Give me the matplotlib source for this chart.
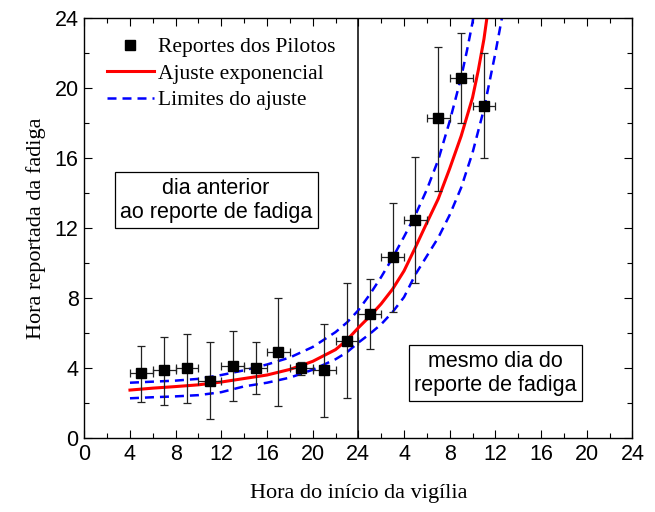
import matplotlib.pyplot as plt
import numpy as np

# pilot reports (x in hours counted over two days, 24-48 = same day)
rep_x = [5, 7, 9, 11, 13, 15, 17, 19, 21, 23, 25, 27, 29, 31, 33, 35]
rep_y = [3.7, 3.89, 3.98, 3.26, 4.11, 4.0, 4.93, 3.98, 3.89, 5.54,
         7.07, 10.33, 12.46, 18.27, 20.59, 18.99]
rep_top = [5.27, 5.79, 5.96, 5.5, 6.1, 5.5, 8.0, 4.36, 6.5, 8.84,
           9.1, 13.45, 16.04, 22.33, 23.16, 21.98]
rep_bot = [2.07, 1.87, 1.98, 1.07, 2.13, 2.5, 1.83, 3.6, 1.2, 2.27,
           5.07, 7.22, 8.87, 14.11, 17.98, 16.02]
rep_xerr = [1] * 16

# exponential fit
fit_x = [4, 6, 8, 10, 12, 14, 16, 18, 20, 22, 23, 24, 25, 26, 27, 28,
         29, 30, 31, 32, 33, 34, 34.5, 35, 35.3]
fit_y = [2.74, 2.85, 2.94, 3.04, 3.2, 3.4, 3.6, 3.92, 4.38, 5.05, 5.6, 6.3,
         6.95, 7.67, 8.51, 9.55, 10.9, 12.3, 13.67, 15.4, 17.25, 19.45,
         21.0, 22.8, 24.2]

# fit limits
up_x = [4, 6, 8, 10, 12, 14, 16, 18, 20, 22, 23, 24, 25, 26, 27, 28, 29,
        30, 31, 32, 33, 33.5, 34, 34.1]
up_y = [3.16, 3.22, 3.28, 3.38, 3.6, 3.87, 4.2, 4.6, 5.2, 6.05, 6.6, 7.3,
        8.2, 9.2, 10.3, 11.5, 12.75, 14.2, 15.9, 18.1, 20.6, 22.1, 23.75, 24.2]
lo_x = [4, 6, 8, 10, 12, 14, 16, 18, 20, 22, 23, 24, 25, 26, 27, 28, 29,
        30, 31, 32, 33, 34, 35, 36, 36.6]
lo_y = [2.27, 2.33, 2.38, 2.45, 2.62, 2.95, 3.16, 3.45, 3.9, 4.5, 4.9, 5.45,
        5.95, 6.5, 7.2, 8.05, 9.35, 10.4, 11.45, 12.75, 14.3, 16.3, 18.8,
        22.0, 24.1]

xtick_pos = np.arange(0, 49, 4)
xtick_lab = ['0', '4', '8', '12', '16', '20', '24', '4', '8', '12', '16', '20', '24']

serif = 'Liberation Serif'
sans = 'Liberation Sans'

fig = plt.figure(figsize=(6.55, 5.12), dpi=100)
ax = fig.add_axes([0.1287, 0.1445, 0.8368, 0.8203])

ax.plot(fit_x, fit_y, color='red', lw=2.2, label='Ajuste exponencial', zorder=2)
l1, = ax.plot(up_x, up_y, color='blue', lw=1.8, label='Limites do ajuste', zorder=2)
l2, = ax.plot(lo_x, lo_y, color='blue', lw=1.8, zorder=2)
for ln in (l1, l2):
    ln.set_dashes((3.6, 2.4))

yerr = [np.array(rep_y) - np.array(rep_bot), np.array(rep_top) - np.array(rep_y)]
ax.errorbar(rep_x, rep_y, yerr=yerr, xerr=rep_xerr, fmt='none', ecolor='#222222',
            elinewidth=0.9, capsize=3, capthick=0.9, zorder=3)
ax.plot(rep_x, rep_y, 's', color='black', ms=6.5, ls='none',
        label='Reportes dos Pilotos', zorder=4)

ax.axvline(24, color='black', lw=1.1, zorder=1)

ax.set_xlim(0, 48)
ax.set_ylim(0, 24)
ax.set_xticks(xtick_pos)
ax.set_xticklabels(xtick_lab)
ax.set_xticks(np.arange(0, 49, 2), minor=True)
ax.set_yticks(np.arange(0, 25, 4))
ax.set_yticks(np.arange(0, 25, 2), minor=True)
ax.tick_params(which='both', direction='in', top=True, right=True, width=0.8)
ax.tick_params(which='major', length=6, labelsize=15.5, pad=4)
ax.tick_params(which='minor', length=3.5)
for lab in ax.get_xticklabels() + ax.get_yticklabels():
    lab.set_family(sans)
for sp in ax.spines.values():
    sp.set_linewidth(1.0)

ax.set_xlabel('Hora do início da vigília', family=serif, fontsize=16, labelpad=14)
ax.set_ylabel('Hora reportada da fadiga', family=serif, fontsize=16, labelpad=6)

h, l = ax.get_legend_handles_labels()
order = [l.index('Reportes dos Pilotos'), l.index('Ajuste exponencial'),
         l.index('Limites do ajuste')]
leg = ax.legend([h[i] for i in order], [l[i] for i in order], loc='upper left',
                bbox_to_anchor=(0.025, 0.975), frameon=False, handlelength=2.2,
                handletextpad=0.2, labelspacing=0.3, borderaxespad=0,
                prop={'family': serif, 'size': 15.5})

box = dict(boxstyle='square,pad=0.25', fc='white', ec='black', lw=0.9)
ax.text(11.55, 13.59, 'dia anterior\nao reporte de fadiga', family=sans, fontsize=15.5,
        ha='center', va='center', linespacing=1.2, bbox=box, zorder=5)
ax.text(36.0, 3.7, 'mesmo dia do\nreporte de fadiga', family=sans, fontsize=15.5,
        ha='center', va='center', linespacing=1.2, bbox=box, zorder=5)

fig.savefig('out.png', dpi=100)
